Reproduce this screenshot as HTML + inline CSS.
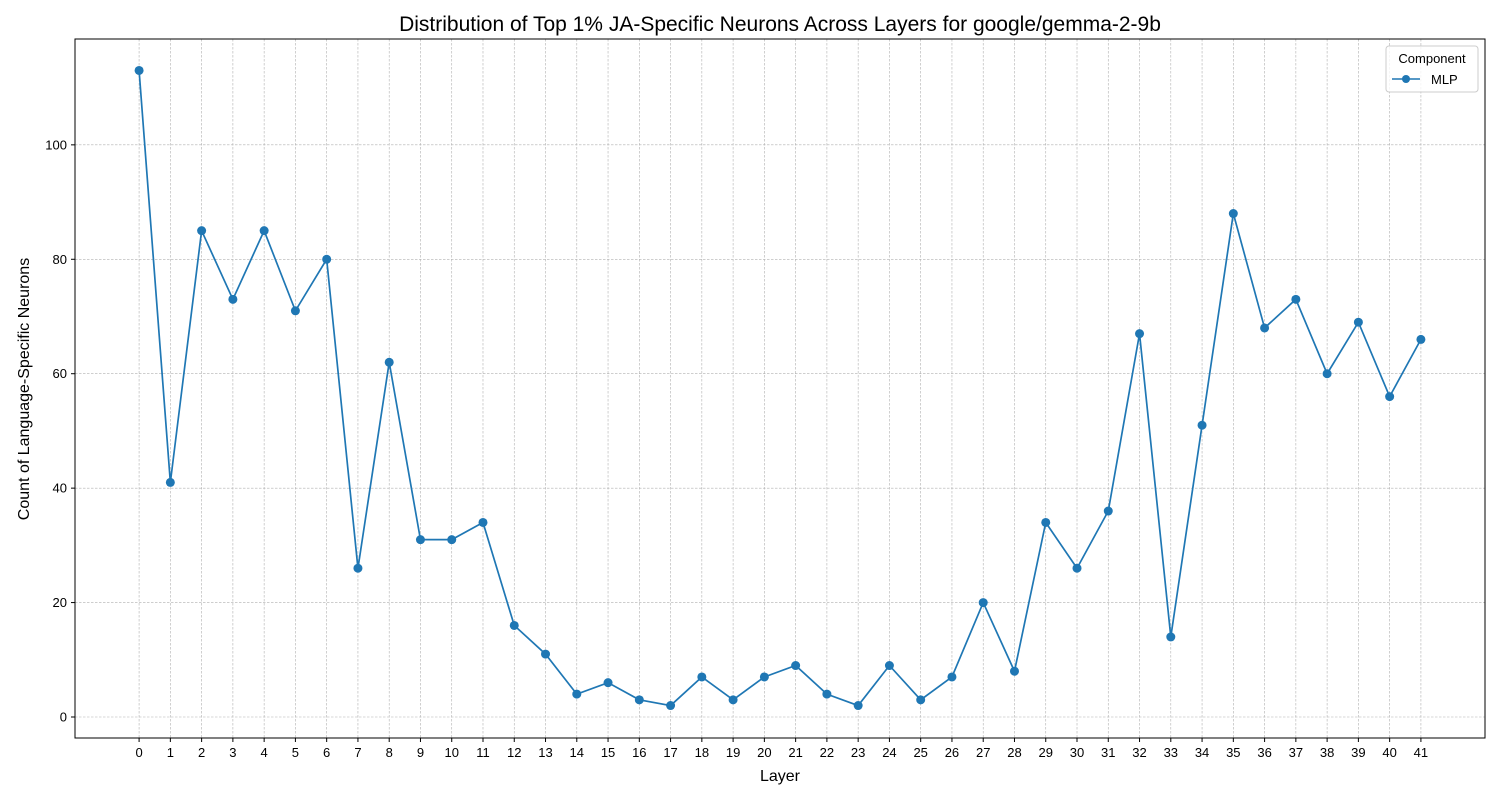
<!DOCTYPE html>
<html><head><meta charset="utf-8">
<style>
body{margin:0;background:#fff;}
svg{display:block;font-family:"Liberation Sans","DejaVu Sans",sans-serif;}
</style></head>
<body>
<svg id="chart" width="1500" height="800" viewBox="0 0 1500 800">
<rect width="1500" height="800" fill="#fff"/>
<text x="780" y="31" text-anchor="middle" font-size="21">Distribution of Top 1% JA-Specific Neurons Across Layers for google/gemma-2-9b</text>
<g id="grid"></g>
<g id="xticks"></g>
<g id="yticks"></g>
<g id="series"></g>
<rect x="75" y="39" width="1410" height="699" fill="none" stroke="#000" stroke-width="1"/>
<text x="780" y="781" text-anchor="middle" font-size="16">Layer</text>
<text transform="translate(29,389) rotate(-90)" text-anchor="middle" font-size="16">Count of Language-Specific Neurons</text>
<g>
<rect x="1386" y="46" width="92" height="46" rx="3" fill="#fff" fill-opacity="0.8" stroke="#ccc"/>
<text x="1432" y="63" text-anchor="middle" font-size="13">Component</text>
<line x1="1392" y1="79" x2="1420" y2="79" stroke="#1f77b4" stroke-width="1.5"/>
<circle cx="1406" cy="79" r="4" fill="#1f77b4"/>
<text x="1431" y="84" font-size="13">MLP</text>
</g>
</svg>
<script>
const layers = [];
for (let i = 0; i <= 41; i++) layers.push(i);
const mlpCounts = [113,41,85,73,85,71,80,26,62,31,31,34,16,11,4,6,3,2,7,3,7,9,4,2,9,3,7,20,8,34,26,36,67,14,51,88,68,73,60,69,56,66];
const yTicks = [0,20,40,60,80,100];

const NS = "http://www.w3.org/2000/svg";
const L=75,R=1485,T=39,B=738;
const xMin=-2.05,xMax=43.05,yMin=-3.67,yMax=118.5;
const xs=v=>L+(v-xMin)/(xMax-xMin)*(R-L);
const ys=v=>B-(v-yMin)/(yMax-yMin)*(B-T);
function mk(tag,attrs,parent){const e=document.createElementNS(NS,tag);for(const k in attrs)e.setAttribute(k,attrs[k]);parent.appendChild(e);return e;}
const grid=document.getElementById('grid'),xt=document.getElementById('xticks'),yt=document.getElementById('yticks'),se=document.getElementById('series');
layers.forEach(l=>{
  const x=xs(l);
  const g=mk('line',{x1:x,x2:x,y1:T,y2:B,stroke:'#b0b0b0','stroke-width':0.6,'stroke-dasharray':'2.5,1.5'},grid);
  
  
  mk('line',{x1:x,x2:x,y1:B,y2:B+4,stroke:'#000'},xt);
  const t=mk('text',{x:x,y:B+19,'text-anchor':'middle','font-size':13},xt);
  t.textContent=l;
  
  
});
yTicks.forEach(v=>{
  const y=ys(v);
  const g=mk('line',{x1:L,x2:R,y1:y,y2:y,stroke:'#b0b0b0','stroke-width':0.6,'stroke-dasharray':'2.5,1.5'},grid);
  
  
  mk('line',{x1:L-4,x2:L,y1:y,y2:y,stroke:'#000'},yt);
  const t=mk('text',{x:L-8,y:y+4.5,'text-anchor':'end','font-size':13},yt);
  t.textContent=v;
  
  
});
const pts=mlpCounts.map((v,i)=>xs(layers[i])+','+ys(v)).join(' ');
const pl=mk('polyline',{points:pts,fill:'none',stroke:'#1f77b4','stroke-width':1.7},se);


mlpCounts.forEach((v,i)=>{
  const c=mk('circle',{cx:xs(layers[i]),cy:ys(v),r:4.5,fill:'#1f77b4'},se);
  
  
});
</script>
</body></html>
